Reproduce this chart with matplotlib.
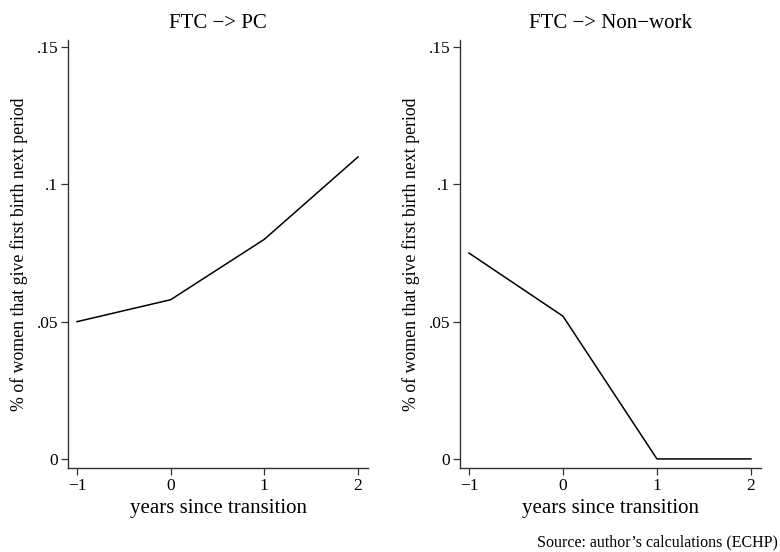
import matplotlib
matplotlib.use("Agg")
import matplotlib.pyplot as plt

plt.rcParams['font.family'] = ['Liberation Serif', 'DejaVu Serif']

years = [-1, 0, 1, 2]
ftc_pc = [0.050, 0.058, 0.080, 0.110]
ftc_nonwork = [0.075, 0.052, 0.000, 0.000]
titles = ["FTC \u2212> PC", "FTC \u2212> Non\u2212work"]
yticks = [0, 0.05, 0.10, 0.15]
yticklabels = ["0", ".05", ".1", ".15"]
xticks = [-1, 0, 1, 2]
xticklabels = ["\u22121", "0", "1", "2"]

fig = plt.figure(figsize=(7.8, 5.52), dpi=100)
positions = [[0.0872, 0.1522, 0.3846, 0.7753], [0.5897, 0.1522, 0.3859, 0.7753]]
for pos, series, title in zip(positions, [ftc_pc, ftc_nonwork], titles):
    ax = fig.add_axes(pos)
    ax.plot(years, series, color='black', lw=1.1)
    ax.set_xlim(-1.096, 2.107)
    ax.set_ylim(-0.0033, 0.1526)
    ax.set_xticks(xticks)
    ax.set_xticklabels(xticklabels)
    ax.set_yticks(yticks)
    ax.set_yticklabels(yticklabels)
    for s in ['top', 'right']:
        ax.spines[s].set_visible(False)
    for s in ['left', 'bottom']:
        ax.spines[s].set_color('#333333')
        ax.spines[s].set_linewidth(1.0)
    ax.tick_params(axis='both', labelsize=12.5, length=5, width=0.9, color='#333333', pad=2)
    ax.set_title(title, fontsize=15, pad=9)
    ax.set_xlabel("years since transition", fontsize=15, labelpad=4)
    ax.set_ylabel("% of women that give first birth next period", fontsize=12.8, labelpad=6)

fig.text(0.6885, 0.017, "Source: author\u2019s calculations (ECHP)", fontsize=11.5, ha='left', va='center')
fig.savefig("out.png", dpi=100)
